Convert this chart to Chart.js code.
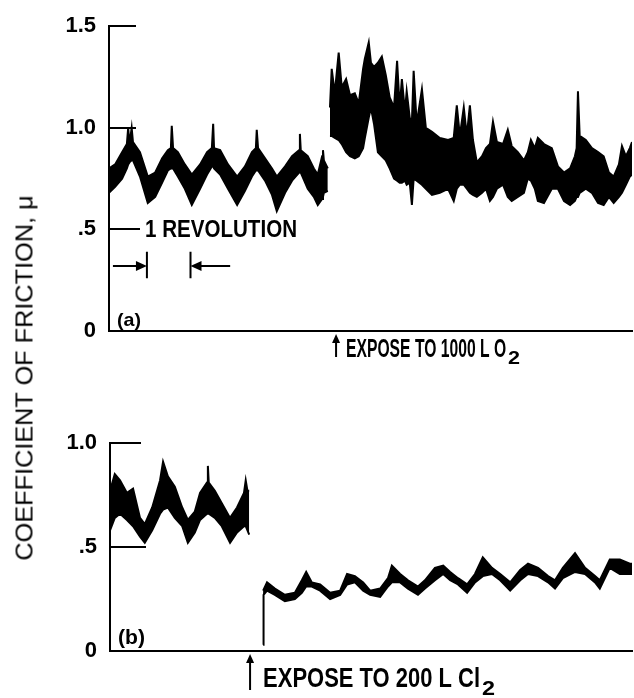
<!DOCTYPE html>
<html>
<head>
<meta charset="utf-8">
<script src="https://cdn.jsdelivr.net/npm/chart.js@4.4.1/dist/chart.umd.min.js"></script>
<style>
    body { margin: 0; background: #fff; width: 634px; height: 698px; overflow: hidden; position: relative; }
    #wrap-a { position: absolute; left: 0; top: 0; }
    #wrap-b { position: absolute; left: 0; top: 380px; }
    #ytitle {
        position: absolute; left: 25px; top: 378px; white-space: nowrap;
        font-family: "Liberation Sans", Arial, sans-serif; font-size: 23px; color: #000;
    }
</style>
</head>
<body>
<div id="wrap-a"><canvas id="chart-a" width="634" height="370"></canvas></div>
<div id="wrap-b"><canvas id="chart-b" width="634" height="318"></canvas></div>
<div id="ytitle">COEFFICIENT OF FRICTION, μ</div>
<script>
// x in revolutions of the disk, y = coefficient of friction
// (a) before exposure
var aX1 = [0.00, 0.14, 0.30, 0.41, 0.44, 0.47, 0.52, 0.55, 0.71, 0.89, 1.06, 1.22, 1.35, 1.42, 1.44, 1.47, 1.58, 1.74, 1.90, 2.09, 2.25, 2.36, 2.39, 2.41, 2.55, 2.73, 2.94, 3.12, 3.28, 3.37, 3.39, 3.42, 3.58, 3.74, 3.85, 4.04, 4.20, 4.36, 4.38, 4.40, 4.56, 4.70, 4.79, 4.89, 4.91, 4.93, 5.02];
var aHi1 = [0.80, 0.82, 0.88, 0.92, 1.00, 0.92, 1.00, 0.93, 0.88, 0.76, 0.78, 0.85, 0.89, 0.90, 1.01, 0.90, 0.88, 0.82, 0.77, 0.82, 0.88, 0.90, 1.02, 0.90, 0.89, 0.82, 0.76, 0.81, 0.88, 0.90, 0.99, 0.90, 0.85, 0.80, 0.76, 0.81, 0.86, 0.89, 0.97, 0.89, 0.86, 0.80, 0.77, 0.86, 0.89, 0.84, 0.80];
var aLo1 = [0.68, 0.71, 0.75, 0.80, 0.82, 0.83, 0.84, 0.84, 0.76, 0.63, 0.66, 0.73, 0.79, 0.80, 0.80, 0.80, 0.76, 0.70, 0.62, 0.70, 0.77, 0.81, 0.81, 0.80, 0.77, 0.70, 0.62, 0.69, 0.76, 0.79, 0.79, 0.79, 0.74, 0.67, 0.59, 0.68, 0.74, 0.78, 0.78, 0.78, 0.70, 0.66, 0.62, 0.65, 0.66, 0.68, 0.69];
// (a) after 1000 L O2
var aX2 = [5.07, 5.11, 5.18, 5.27, 5.34, 5.44, 5.53, 5.64, 5.73, 5.83, 5.87, 5.96, 6.01, 6.08, 6.17, 6.26, 6.35, 6.44, 6.54, 6.61, 6.67, 6.72, 6.79, 6.83, 6.90, 6.95, 6.99, 7.06, 7.18, 7.27, 7.41, 7.59, 7.78, 7.91, 7.98, 8.05, 8.14, 8.21, 8.28, 8.35, 8.44, 8.56, 8.65, 8.74, 8.81, 8.90, 9.04, 9.15, 9.24, 9.38, 9.52, 9.61, 9.68, 9.77, 9.84, 9.98, 10.16, 10.30, 10.44, 10.58, 10.69, 10.73, 10.76, 10.80, 10.94, 11.08, 11.22, 11.35, 11.47, 11.58, 11.70, 11.77, 11.86, 11.95, 12.00];
var aHi2 = [1.10, 1.29, 1.17, 1.37, 1.20, 1.24, 1.16, 1.17, 1.12, 1.29, 1.34, 1.42, 1.32, 1.30, 1.32, 1.35, 1.26, 1.15, 1.10, 1.33, 1.10, 1.24, 1.08, 1.18, 1.05, 1.03, 1.28, 1.02, 1.19, 1.00, 0.98, 0.95, 0.94, 0.95, 1.11, 0.96, 1.10, 0.96, 1.11, 0.94, 0.83, 0.86, 0.90, 0.92, 1.03, 0.93, 0.92, 0.99, 0.91, 0.88, 0.84, 0.88, 0.94, 0.90, 0.95, 0.92, 0.90, 0.81, 0.78, 0.80, 0.86, 0.90, 1.18, 0.96, 0.94, 0.90, 0.88, 0.86, 0.78, 0.76, 0.82, 0.91, 0.86, 0.90, 0.93];
var aLo2 = [0.96, 0.96, 0.95, 0.94, 0.92, 0.88, 0.86, 0.85, 0.86, 0.90, 0.95, 1.05, 1.10, 1.02, 0.88, 0.86, 0.84, 0.80, 0.75, 0.74, 0.73, 0.73, 0.74, 0.72, 0.73, 0.62, 0.75, 0.74, 0.72, 0.70, 0.67, 0.68, 0.70, 0.64, 0.70, 0.72, 0.72, 0.70, 0.68, 0.67, 0.66, 0.68, 0.70, 0.64, 0.66, 0.70, 0.72, 0.66, 0.64, 0.66, 0.68, 0.75, 0.74, 0.70, 0.64, 0.63, 0.70, 0.70, 0.64, 0.62, 0.64, 0.66, 0.66, 0.68, 0.70, 0.68, 0.63, 0.62, 0.66, 0.63, 0.66, 0.68, 0.72, 0.76, 0.77];
// (b) before exposure
var bX1 = [0.00, 0.11, 0.23, 0.39, 0.53, 0.69, 0.80, 0.97, 1.15, 1.22, 1.33, 1.49, 1.66, 1.79, 1.95, 2.07, 2.23, 2.25, 2.27, 2.41, 2.57, 2.76, 2.92, 3.08, 3.12, 3.16, 3.20];
var bHi1 = [0.77, 0.85, 0.82, 0.76, 0.78, 0.64, 0.61, 0.69, 0.82, 0.91, 0.84, 0.79, 0.69, 0.63, 0.67, 0.76, 0.81, 0.89, 0.81, 0.77, 0.71, 0.64, 0.69, 0.76, 0.82, 0.77, 0.77];
var bLo1 = [0.58, 0.64, 0.66, 0.63, 0.60, 0.55, 0.52, 0.58, 0.66, 0.68, 0.69, 0.64, 0.60, 0.52, 0.57, 0.63, 0.66, 0.66, 0.66, 0.64, 0.60, 0.52, 0.57, 0.60, 0.60, 0.58, 0.56];
// (b) after 200 L Cl2
var bX2 = [3.52, 3.53, 3.61, 3.79, 4.02, 4.25, 4.41, 4.51, 4.64, 4.83, 5.06, 5.29, 5.45, 5.63, 5.82, 5.98, 6.21, 6.39, 6.48, 6.67, 6.85, 7.08, 7.24, 7.47, 7.66, 7.82, 8.00, 8.21, 8.39, 8.57, 8.78, 8.97, 9.20, 9.43, 9.61, 9.84, 10.07, 10.23, 10.41, 10.69, 10.92, 11.15, 11.26, 11.49, 11.72, 11.95, 12.00];
var bHi2 = [0.29, 0.29, 0.33, 0.30, 0.27, 0.28, 0.34, 0.38, 0.33, 0.32, 0.28, 0.29, 0.37, 0.36, 0.33, 0.29, 0.30, 0.35, 0.41, 0.37, 0.34, 0.31, 0.34, 0.40, 0.41, 0.38, 0.35, 0.32, 0.37, 0.45, 0.40, 0.37, 0.33, 0.39, 0.42, 0.40, 0.36, 0.34, 0.40, 0.47, 0.40, 0.36, 0.34, 0.44, 0.44, 0.42, 0.42];
var bLo2 = [0.03, 0.27, 0.29, 0.27, 0.24, 0.25, 0.28, 0.31, 0.31, 0.29, 0.25, 0.27, 0.32, 0.33, 0.29, 0.27, 0.26, 0.31, 0.33, 0.33, 0.30, 0.27, 0.30, 0.34, 0.37, 0.34, 0.32, 0.28, 0.33, 0.36, 0.37, 0.34, 0.29, 0.34, 0.37, 0.36, 0.33, 0.30, 0.35, 0.38, 0.37, 0.33, 0.30, 0.40, 0.37, 0.37, 0.37];

var aTicks = [0, 0.5, 1.0, 1.5];
var aTickLabels = ['0', '.5', '1.0', '1.5'];
var bTicks = [0, 0.5, 1.0];
var bTickLabels = ['0', '.5', '1.0'];

var FONT = '"Liberation Sans", Arial, sans-serif';

function bandSets(xs, hi, lo) {
    var top = [], bot = [];
    for (var i = 0; i < xs.length; i++) {
        top.push({x: xs[i], y: hi[i]});
        bot.push({x: xs[i], y: lo[i]});
    }
    return [
        {data: top, borderColor: '#000', backgroundColor: '#000', borderWidth: 2, pointRadius: 0, tension: 0, fill: '+1'},
        {data: bot, borderColor: '#000', backgroundColor: '#000', borderWidth: 2, pointRadius: 0, tension: 0, fill: false}
    ];
}

// squeeze text horizontally to the width it has in the figure
function fitText(ctx, str, x, y, w, font) {
    ctx.save();
    ctx.font = font;
    var m = ctx.measureText(str).width;
    ctx.translate(x, y);
    ctx.scale(w / m, 1);
    ctx.fillText(str, 0, 0);
    ctx.restore();
}

function upArrow(ctx, x, yTip, yEnd) {
    ctx.beginPath();
    ctx.moveTo(x, yTip + 6);
    ctx.lineTo(x, yEnd);
    ctx.stroke();
    ctx.beginPath();
    ctx.moveTo(x, yTip);
    ctx.lineTo(x - 4, yTip + 9);
    ctx.lineTo(x + 4, yTip + 9);
    ctx.closePath();
    ctx.fill();
}

function hArrow(ctx, xTail, xTip, y) {
    var d = xTip > xTail ? 1 : -1;
    ctx.beginPath();
    ctx.moveTo(xTail, y);
    ctx.lineTo(xTip - d * 6, y);
    ctx.stroke();
    ctx.beginPath();
    ctx.moveTo(xTip, y);
    ctx.lineTo(xTip - d * 11, y - 5);
    ctx.lineTo(xTip - d * 11, y + 5);
    ctx.closePath();
    ctx.fill();
}

function innerTicks(chart, values, lens) {
    var ctx = chart.ctx, y = chart.scales.y, left = chart.chartArea.left;
    ctx.save();
    ctx.strokeStyle = '#000';
    ctx.lineWidth = 2;
    for (var i = 0; i < values.length; i++) {
        if (values[i] === 0) continue;
        var py = Math.round(y.getPixelForValue(values[i]));
        ctx.beginPath();
        ctx.moveTo(left, py);
        ctx.lineTo(left + lens[i], py);
        ctx.stroke();
    }
    ctx.restore();
}

function baseOptions(ticks, labels, max, padTop, yWidth, xHeight) {
    return {
        responsive: false,
        devicePixelRatio: 1,
        animation: false,
        layout: {padding: {left: 0, right: 2, top: padTop, bottom: 0}},
        plugins: {legend: {display: false}, tooltip: {enabled: false}},
        scales: {
            x: {
                type: 'linear', min: 0, max: 12,
                grid: {display: false},
                border: {display: true, color: '#000', width: 2},
                ticks: {display: false},
                afterFit: function (s) { s.height = xHeight; }
            },
            y: {
                min: 0, max: max,
                grid: {display: false, drawTicks: false},
                border: {display: true, color: '#000', width: 2},
                afterBuildTicks: function (s) {
                    s.ticks = ticks.map(function (v) { return {value: v}; });
                },
                ticks: {
                    color: '#000', padding: 13,
                    font: {family: FONT, size: 22, weight: 'bold'},
                    callback: function (v) { return labels[ticks.indexOf(v)]; }
                },
                afterFit: function (s) { s.width = yWidth; }
            }
        }
    };
}

var decorA = {
    id: 'decorA',
    afterDraw: function (chart) {
        var ctx = chart.ctx, xs = chart.scales.x, ys = chart.scales.y, area = chart.chartArea;
        innerTicks(chart, aTicks, [0, 31, 27, 27]);
        ctx.save();
        ctx.fillStyle = '#000';
        ctx.strokeStyle = '#000';
        ctx.lineWidth = 2;
        ctx.textBaseline = 'alphabetic';
        // 1 revolution marker
        fitText(ctx, '1 REVOLUTION', 145, ys.getPixelForValue(0.5) + 8, 152, 'bold 24px ' + FONT);
        var yArr = ys.getPixelForValue(0.32);
        var x0 = xs.getPixelForValue(0.87), x1 = xs.getPixelForValue(1.87);
        hArrow(ctx, xs.getPixelForValue(0.09), x0, yArr);
        hArrow(ctx, xs.getPixelForValue(2.78), x1, yArr);
        ctx.beginPath();
        ctx.moveTo(x0, ys.getPixelForValue(0.39));
        ctx.lineTo(x0, ys.getPixelForValue(0.26));
        ctx.moveTo(x1, ys.getPixelForValue(0.39));
        ctx.lineTo(x1, ys.getPixelForValue(0.26));
        ctx.stroke();
        fitText(ctx, '(a)', 117, area.bottom - 5, 24, 'bold 19px ' + FONT);
        // exposure mark
        var xe = xs.getPixelForValue(5.21);
        upArrow(ctx, xe, area.bottom + 3, area.bottom + 26);
        fitText(ctx, 'EXPOSE TO 1000 L O', xe + 10, area.bottom + 26, 160, 'bold 26px ' + FONT);
        fitText(ctx, '2', xe + 172, area.bottom + 33, 12, 'bold 19px ' + FONT);
        ctx.restore();
    }
};

var decorB = {
    id: 'decorB',
    afterDraw: function (chart) {
        var ctx = chart.ctx, xs = chart.scales.x, area = chart.chartArea;
        innerTicks(chart, bTicks, [0, 36, 31]);
        ctx.save();
        ctx.fillStyle = '#000';
        ctx.strokeStyle = '#000';
        ctx.lineWidth = 2;
        fitText(ctx, '(b)', 118, area.bottom - 7, 27, 'bold 20px ' + FONT);
        var xe = xs.getPixelForValue(3.22);
        upArrow(ctx, xe, area.bottom + 3, area.bottom + 39);
        fitText(ctx, 'EXPOSE TO 200 L Cl', xe + 13, area.bottom + 36, 217, 'bold 27px ' + FONT);
        fitText(ctx, '2', xe + 232, area.bottom + 44, 13, 'bold 21px ' + FONT);
        ctx.restore();
    }
};

new Chart(document.getElementById('chart-a').getContext('2d'), {
    type: 'line',
    data: {datasets: bandSets(aX1, aHi1, aLo1).concat(bandSets(aX2, aHi2, aLo2))},
    options: baseOptions(aTicks, aTickLabels, 1.5, 16, 109, 39),
    plugins: [decorA]
});

new Chart(document.getElementById('chart-b').getContext('2d'), {
    type: 'line',
    data: {datasets: bandSets(bX1, bHi1, bLo1).concat(bandSets(bX2, bHi2, bLo2))},
    options: baseOptions(bTicks, bTickLabels, 1.0, 63, 110, 47),
    plugins: [decorB]
});

var title = document.getElementById('ytitle');
var sx = 365 / title.offsetWidth;
title.style.transform = 'translate(-50%, -50%) rotate(-90deg) scaleX(' + sx + ')';
</script>
</body>
</html>
